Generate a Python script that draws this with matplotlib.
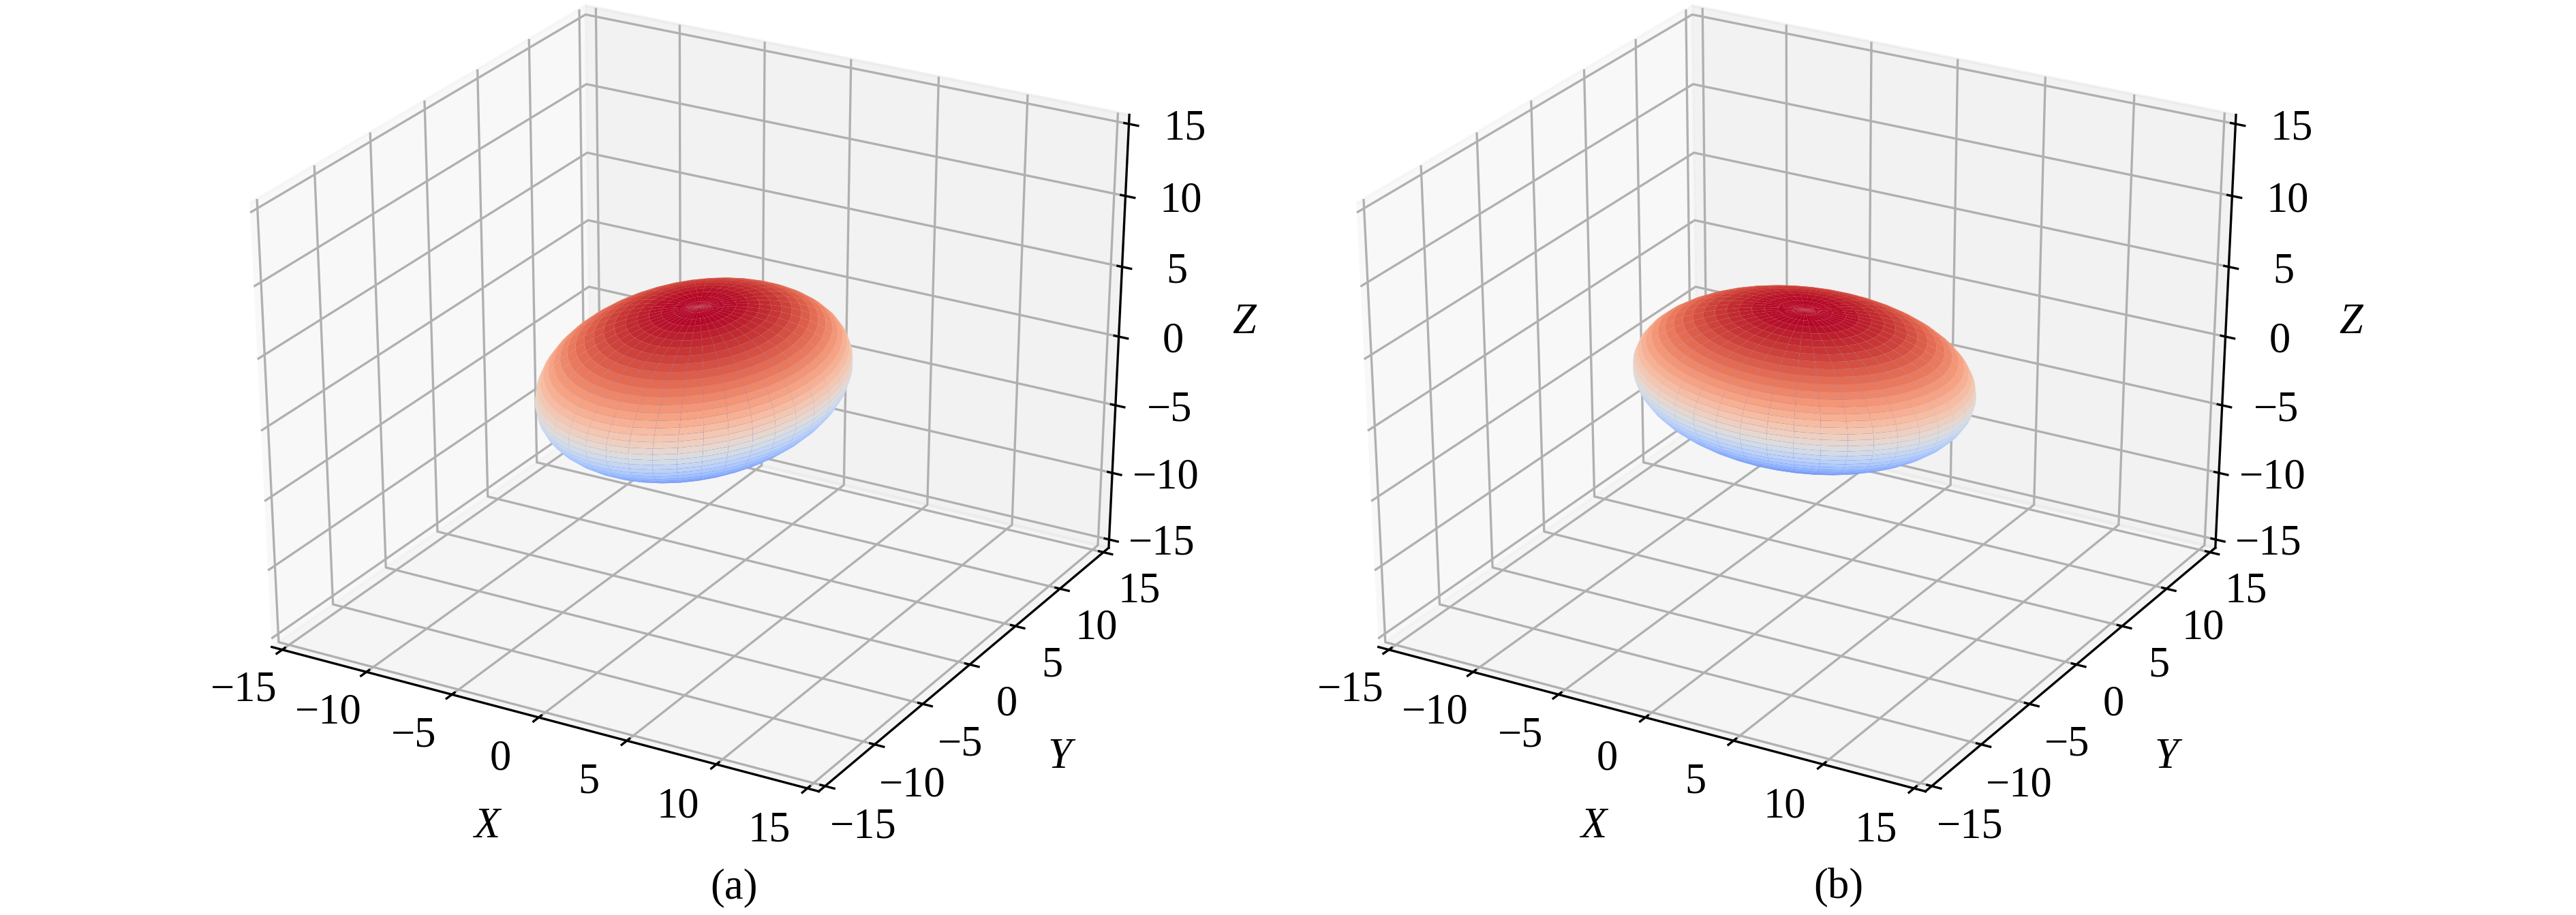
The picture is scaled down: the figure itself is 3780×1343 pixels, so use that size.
import numpy as np
import matplotlib
matplotlib.use("Agg")
import matplotlib.pyplot as plt
from matplotlib.transforms import ScaledTranslation

plt.rcParams['font.family'] = ['Liberation Serif', 'DejaVu Serif']
plt.rcParams['font.size'] = 15

ticks = [-15, -10, -5, 0, 5, 10, 15]
panel_names = ["(a)", "(b)"]
panel_x = [0.285, 0.7137]

# ellipsoids: semi axes, rotation angles and centre
semi_x = [6.719, 8.764]
semi_y = [9.137, 6.002]
semi_z = [5.390, 5.523]
yaw_deg = [-12.48, 12.34]
tilt_y_deg = [4.49, 3.53]
tilt_x_deg = [1.93, 8.72]
centre_x = [-0.14, -0.06]
centre_y = [0.01, 0.08]
centre_z = [0.20, 0.16]

axes_left = [0.0636, 0.4932]
axes_bottom = 0.0931
axes_w = 0.4034
axes_h = 0.9512
lim = 15.625


def ellipsoid(i, n=41):
    u = np.linspace(0, 2 * np.pi, n)
    v = np.linspace(0, np.pi, n)
    x = semi_x[i] * np.outer(np.cos(u), np.sin(v))
    y = semi_y[i] * np.outer(np.sin(u), np.sin(v))
    z = semi_z[i] * np.outer(np.ones_like(u), np.cos(v))
    lat = z / semi_z[i]
    a, t1, t2 = np.radians([yaw_deg[i], tilt_y_deg[i], tilt_x_deg[i]])
    # rotate about x, then y, then z
    y, z = y * np.cos(t2) - z * np.sin(t2), y * np.sin(t2) + z * np.cos(t2)
    x, z = x * np.cos(t1) + z * np.sin(t1), -x * np.sin(t1) + z * np.cos(t1)
    x, y = x * np.cos(a) - y * np.sin(a), x * np.sin(a) + y * np.cos(a)
    return x + centre_x[i], y + centre_y[i], z + centre_z[i], lat


def shift_labels(ax, axis, dx, dy):
    # move tick labels by a fixed offset, given in pixels of the 300 dpi output
    offset = ScaledTranslation(dx * 0.24 / 72, dy * 0.24 / 72, fig.dpi_scale_trans)
    get_ticks = axis.get_major_ticks

    def moved(numticks=None):
        major = get_ticks(numticks)
        for t in major:
            t.label1.set_transform(ax.transData + offset)
        return major
    axis.get_major_ticks = moved


fig = plt.figure(figsize=(12.6, 4.477), dpi=300)

for i in range(2):
    ax = fig.add_axes([axes_left[i], axes_bottom, axes_w, axes_h], projection='3d')
    ax.patch.set_visible(False)
    ax.set_box_aspect((1, 1, 0.95))
    # the box is squashed in the original, so let it fill a non square axes
    ax.apply_aspect = lambda position=None: None
    ax.set_proj_type('persp', focal_length=1.0297)
    ax.view_init(elev=28.83, azim=-60.2)
    x, y, z, lat = ellipsoid(i)
    colors = plt.cm.coolwarm((lat + 1) / 2)
    ax.plot_surface(x, y, z, facecolors=colors, rstride=1, cstride=1, linewidth=0, shade=False)
    ax.set_xlim(-lim, lim, view_margin=0)
    ax.set_ylim(-lim, lim, view_margin=0)
    ax.set_zlim(-lim, lim, view_margin=0)
    ax.set_xticks(ticks)
    ax.set_yticks(ticks)
    ax.set_zticks(ticks)
    ax.tick_params(axis='x', pad=2)
    ax.tick_params(axis='y', pad=2)
    ax.tick_params(axis='z', pad=6)
    shift_labels(ax, ax.xaxis, -29, 25)
    shift_labels(ax, ax.yaxis, 9, 17)
    shift_labels(ax, ax.zaxis, -17, 11)
    ax.set_xlabel("X", style='italic', labelpad=7)
    ax.set_ylabel("Y", style='italic', labelpad=8)
    ax.zaxis.set_rotate_label(False)
    ax.set_zlabel("Z", style='italic', labelpad=5.6, rotation=0)
    fig.text(panel_x[i], 0.008, panel_names[i], ha='center', va='bottom')

fig.savefig("out.png", dpi=300)
